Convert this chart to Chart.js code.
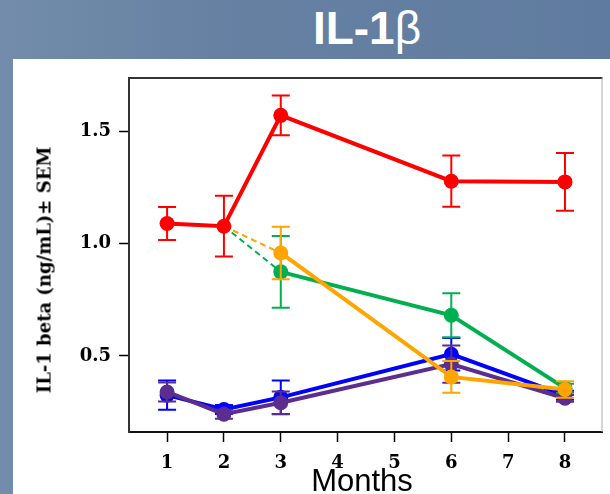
<!DOCTYPE html>
<html>
<head>
  <title>IL-1 beta</title>
  <script src="https://cdn.jsdelivr.net/npm/chart.js"></script>
  <style>
    body {
      margin: 0;
      width: 610px;
      height: 494px;
      overflow: hidden;
      position: relative;
      background: linear-gradient(90deg, #738cab 0%, #6681a2 35%, #5f7b9f 100%);
    }
    #panel {
      position: absolute;
      left: 13px;
      top: 59px;
      width: 597px;
      height: 435px;
      background: #fff;
    }
    #title {
      position: absolute;
      left: 367px;
      top: 5px;
      transform: translateX(-50%);
      color: #fff;
      font: bold 46px "Liberation Sans", Arial, sans-serif;
      line-height: 46px;
      white-space: nowrap;
    }
    #title span { font-weight: normal; }
    #ylabel {
      position: absolute;
      left: 44px;
      top: 270px;
      transform: translate(-50%, -50%) rotate(-90deg);
      font: bold 18px "DejaVu Serif", serif;
      white-space: nowrap;
      color: #000;
    }
    #xlabel {
      position: absolute;
      left: 362px;
      top: 463px;
      transform: translateX(-50%);
      font: 31px "Liberation Sans", Arial, sans-serif;
      line-height: 36px;
      color: #000;
    }
    #myChart {
      position: absolute;
      left: 0;
      top: 0;
    }
  </style>
</head>
<body>
  <div id="panel"></div>
  <div id="title">IL-1<span>β</span></div>
  <canvas id="myChart" width="610" height="494"></canvas>
  <div id="ylabel">IL-1 beta (ng/mL)± SEM</div>
  <div id="xlabel">Months</div>

  <script>
    // Axis ticks
    const xTicks = [1, 2, 3, 4, 5, 6, 7, 8];
    const yTicks = [0.5, 1.0, 1.5];

    // Series (mean and SEM)
    const redMonths = [1, 2, 3, 6, 8];
    const redMean = [1.089, 1.077, 1.570, 1.277, 1.274];
    const redSem = [0.073, 0.135, 0.088, 0.114, 0.128];

    // green and orange start from the red month-2 point (dashed link)
    const greenMonths = [2, 3, 6, 8];
    const greenMean = [1.077, 0.874, 0.681, 0.357];
    const greenSem = [null, 0.159, 0.098, 0.02];

    const orangeMonths = [2, 3, 6, 8];
    const orangeMean = [1.077, 0.958, 0.407, 0.351];
    const orangeSem = [null, 0.117, 0.071, 0.037];

    const blueMonths = [1, 2, 3, 6, 8];
    const blueMean = [0.326, 0.262, 0.316, 0.508, 0.325];
    const blueSem = [0.065, 0.02, 0.075, 0.072, 0.02];

    const purpleMonths = [1, 2, 3, 6, 8];
    const purpleMean = [0.340, 0.241, 0.292, 0.464, 0.312];
    const purpleSem = [0.042, 0.02, 0.05, 0.083, 0.015];

    function points(months, mean) {
      return months.map((m, i) => ({ x: m, y: mean[i] }));
    }

    function series(label, color, months, mean, sem, order, linked) {
      return {
        label: label,
        data: points(months, mean),
        errors: sem,
        borderColor: color,
        backgroundColor: color,
        pointBackgroundColor: color,
        pointBorderWidth: 0,
        pointRadius: linked ? mean.map((_, i) => i === 0 ? 0 : 7.5) : 7.5,
        borderWidth: 4,
        order: order,
        segment: linked ? {
          borderDash: c => c.p0DataIndex === 0 ? [6, 4] : undefined,
          borderWidth: c => c.p0DataIndex === 0 ? 2 : undefined,
        } : undefined,
      };
    }

    // error bars, drawn under each dataset's own line
    const errorBars = {
      id: 'errorBars',
      beforeDatasetDraw(chart, args) {
        const ds = chart.data.datasets[args.index];
        if (!ds.errors) return;
        const ctx = chart.ctx;
        const xs = chart.scales.x, ys = chart.scales.y;
        ctx.save();
        ctx.strokeStyle = ds.borderColor;
        ctx.lineWidth = 2;
        ds.data.forEach((p, i) => {
          const e = ds.errors[i];
          if (e == null) return;
          const x = xs.getPixelForValue(p.x);
          const top = ys.getPixelForValue(p.y + e);
          const bot = ys.getPixelForValue(p.y - e);
          ctx.beginPath();
          ctx.moveTo(x, top); ctx.lineTo(x, bot);
          ctx.moveTo(x - 9, top); ctx.lineTo(x + 9, top);
          ctx.moveTo(x - 9, bot); ctx.lineTo(x + 9, bot);
          ctx.stroke();
        });
        ctx.restore();
      }
    };

    // top and right edges of the plot box
    const frame = {
      id: 'frame',
      afterDraw(chart) {
        const a = chart.chartArea, ctx = chart.ctx;
        ctx.save();
        ctx.strokeStyle = '#333';
        ctx.lineWidth = 2;
        ctx.beginPath();
        ctx.moveTo(a.left, a.top); ctx.lineTo(a.right, a.top);
        ctx.stroke();
        ctx.strokeStyle = '#aaa';
        ctx.lineWidth = 1;
        ctx.beginPath();
        ctx.moveTo(a.right - 0.5, a.top); ctx.lineTo(a.right - 0.5, a.bottom);
        ctx.stroke();
        ctx.restore();
      }
    };

    const tickFont = { family: 'DejaVu Serif', weight: 'bold', size: 18 };

    const ctx = document.getElementById('myChart').getContext('2d');
    const chart = new Chart(ctx, {
      type: 'line',
      data: {
        datasets: [
          series('Red', '#ff0000', redMonths, redMean, redSem, 0, false),
          series('Orange', '#ffa500', orangeMonths, orangeMean, orangeSem, 1, true),
          series('Green', '#00b050', greenMonths, greenMean, greenSem, 2, true),
          series('Purple', '#5a2d8e', purpleMonths, purpleMean, purpleSem, 3, false),
          series('Blue', '#0000ff', blueMonths, blueMean, blueSem, 4, false),
        ]
      },
      options: {
        responsive: false,
        animation: false,
        layout: { padding: { top: 78, right: 1, bottom: 0, left: 0 } },
        plugins: {
          legend: { display: false },
          tooltip: { enabled: false },
        },
        scales: {
          x: {
            type: 'linear',
            min: 0.33,
            max: 8.66,
            afterBuildTicks: axis => { axis.ticks = xTicks.map(v => ({ value: v })); },
            afterFit: axis => { axis.height = 62; },
            grid: { drawOnChartArea: false, tickLength: 10, color: '#000', tickWidth: 1.5 },
            border: { color: '#111', width: 2 },
            ticks: { font: tickFont, color: '#000', padding: 11, maxRotation: 0 },
          },
          y: {
            min: 0.162,
            max: 1.736,
            afterBuildTicks: axis => { axis.ticks = yTicks.map(v => ({ value: v })); },
            afterFit: axis => { axis.width = 129; },
            grid: { drawOnChartArea: false, tickLength: 10, color: '#000', tickWidth: 1.5 },
            border: { color: '#333', width: 2 },
            ticks: { font: tickFont, color: '#000', padding: 8, callback: v => v.toFixed(1) },
          }
        }
      },
      plugins: [errorBars, frame]
    });
  </script>
</body>
</html>
